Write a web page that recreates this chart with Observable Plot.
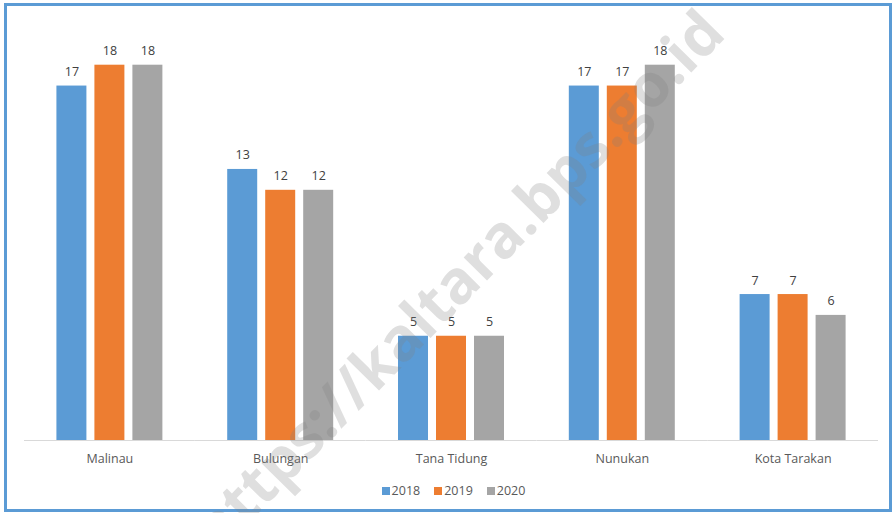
<!DOCTYPE html>
<html>
<head>
<meta charset="utf-8">
<script src="https://cdn.jsdelivr.net/npm/d3@7"></script>
<script src="https://cdn.jsdelivr.net/npm/@observablehq/plot@0.6"></script>
<style>
  html, body { margin: 0; padding: 0; background: #fff; }
  #wrap { position: relative; width: 895px; height: 513px; overflow: hidden; font-family: "Open Sans", sans-serif; }
  #frame { position: absolute; left: 4px; top: 3px; width: 888px; height: 509px; box-sizing: border-box; border: 3px solid #5b9bd5; }
  #chart { position: absolute; left: 0; top: 0; }
  #legend { position: absolute; left: 6px; width: 895px; top: 482px; text-align: center; font-size: 12.5px; color: #595959; }
  #legend span.item { display: inline-block; margin: 0 7px; }
  #legend span.sw { display: inline-block; width: 8px; height: 8px; margin-right: 2px; vertical-align: 0px; }
  #wm { position: absolute; left: 0; top: 0; pointer-events: none; }
</style>
</head>
<body>
<div id="wrap">
  <div id="frame"></div>
  <div id="chart"></div>
  <div id="legend"></div>
  <svg id="wm" width="895" height="513"></svg>
</div>
<script>
const categories = ["Malinau", "Bulungan", "Tana Tidung", "Nunukan", "Kota Tarakan"];
const years = ["2018", "2019", "2020"];
const v2018 = [17, 13, 5, 17, 7];
const v2019 = [18, 12, 5, 17, 7];
const v2020 = [18, 12, 5, 18, 6];
const colors = ["#5b9bd5", "#ed7d31", "#a5a5a5"];
const watermark = "https://kaltara.bps.go.id";

const series = [v2018, v2019, v2020];
const data = [];
categories.forEach((c, i) => {
  years.forEach((y, j) => data.push({category: c, year: y, value: series[j][i]}));
});

const plot = Plot.plot({
  width: 895,
  height: 475,
  marginLeft: 24,
  marginRight: 17,
  marginTop: 23,
  marginBottom: 35,
  style: {fontFamily: "Open Sans, sans-serif", fontSize: "12.5px", color: "#595959", background: "transparent"},
  fx: {domain: categories, padding: 0, label: null, round: false},
  x: {domain: years, paddingInner: 0.2105, paddingOuter: 0.853, axis: null, round: false},
  y: {domain: [0, 20], axis: null},
  color: {domain: years, range: colors},
  marks: [
    Plot.barY(data, {fx: "category", x: "year", y: "value", fill: "year"}),
    Plot.ruleY([0], {stroke: "#d9d9d9", strokeWidth: 1}),
    Plot.text(data, {fx: "category", x: "year", y: "value", text: d => String(d.value), dy: -14, fill: "#404040", fontSize: 12.5}),
    Plot.axisFx({anchor: "bottom", tickSize: 0, tickPadding: 14, label: null, fill: "#595959", fontSize: 12.5})
  ]
});
document.getElementById("chart").appendChild(plot);

const legend = d3.select("#legend");
years.forEach((y, j) => {
  const it = legend.append("span").attr("class", "item");
  it.append("span").attr("class", "sw").style("background", colors[j]);
  it.append("span").text(y);
});

d3.select("#wm").append("text")
  .attr("x", 0).attr("y", 0)
  .attr("transform", "translate(461,284) rotate(-45.5)")
  .attr("text-anchor", "middle")
  .attr("dominant-baseline", "middle")
  .attr("font-family", "Open Sans, sans-serif")
  .attr("font-weight", "bold")
  .attr("font-size", 60)
  .attr("fill", "#808080")
  .attr("fill-opacity", 0.25)
  .text(watermark);
</script>
</body>
</html>
